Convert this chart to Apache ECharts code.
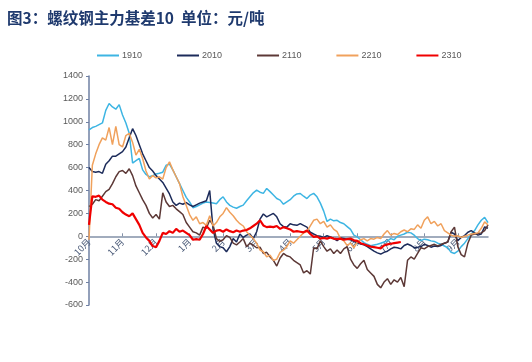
<!DOCTYPE html>
<html>
<head>
<meta charset="utf-8">
<script src="https://cdn.jsdelivr.net/npm/echarts@6/dist/echarts.min.js"></script>
<style>
html,body{margin:0;padding:0;background:#fff;}
#c{width:532px;height:362px;}
</style>
</head>
<body>
<div id="c"></div>
<script>
// month labels (10 sample points per month)
const months = ['10月','11月','12月','1月','2月','3月','4月','5月','6月','7月','8月','9月'];
const perMonth = 10;
const yTicks = [-600,-400,-200,0,200,400,600,800,1000,1200,1400];

const s1910 = [930,950,960,975,990,1100,1160,1130,1110,1150,1060,990,900,640,660,680,580,540,520,530,
545,550,560,620,630,580,520,460,400,340,300,250,260,275,290,300,295,290,285,320,
345,300,270,255,245,260,272,310,345,380,403,385,375,418,390,360,330,316,280,300,
320,350,370,374,350,330,360,375,345,290,220,130,150,135,140,120,110,85,60,10,
-5,-30,-55,-70,-82,-75,-70,-60,-50,-40,-20,-30,0,10,20,35,30,10,-20,-38,
-25,-30,-40,-45,-60,-70,-85,-100,-140,-150,-130,-90,-60,-20,20,50,100,140,165,120];

const s2010 = [600,565,560,565,550,630,660,700,700,720,740,780,860,940,880,800,720,660,600,570,
530,500,470,420,370,300,270,290,280,295,275,260,275,290,300,310,400,60,-60,-90,
-100,-135,-90,-20,-50,20,-10,10,20,-20,40,150,195,170,185,200,170,110,85,80,
110,100,96,111,95,80,35,20,6,0,-10,5,-5,-20,-38,-15,-20,-25,-30,-45,
-55,-67,-75,-90,-110,-130,-145,-155,-140,-130,-110,-96,-100,-110,-80,-67,-80,-100,-96,-90,
-70,-80,-95,-85,-90,-80,-60,-50,35,20,-38,-10,6,35,50,30,10,20,82,70];

const s2110 = [260,280,320,310,350,390,410,460,520,565,575,550,590,530,440,380,320,270,200,160,
190,150,380,300,260,270,240,215,190,120,80,40,30,10,80,70,140,100,-20,-45,
-30,6,-10,-60,-75,-50,-20,-90,-60,-80,-100,-95,-150,-140,-180,-210,-260,-190,-150,-170,
-180,-210,-230,-250,-320,-300,-330,-100,-110,-40,-90,-130,-110,-150,-120,-150,-110,-90,-200,-250,
-280,-240,-210,-290,-320,-350,-420,-450,-400,-370,-420,-380,-400,-360,-440,-210,-180,-200,-150,-100,
-110,-90,-80,-70,-85,-70,-60,-50,40,80,-90,-160,-180,-60,10,20,25,30,50,100];

const s2210 = [-30,620,720,800,860,840,950,800,960,800,780,880,900,820,710,760,680,570,500,530,
510,520,500,600,650,580,520,460,345,270,190,140,170,110,120,96,180,90,120,170,
200,250,210,180,140,110,90,40,10,-20,-60,-120,-135,-180,-165,-210,-200,-140,-120,-90,
-40,-60,-30,0,30,40,90,140,150,110,130,80,100,60,40,-20,-40,-80,-60,-100,
-50,-30,-20,-40,-20,-25,-10,-20,20,50,10,25,15,40,55,40,65,60,100,70,
140,170,110,130,90,110,50,30,10,0,5,-10,0,10,20,25,30,70,126,100];

const s2310 = [100,350,345,355,320,300,285,280,250,240,210,190,175,200,150,100,30,-10,-40,-85,
-95,-40,30,20,45,30,65,40,50,30,10,-30,-25,-30,20,90,60,30,50,55,
40,60,45,35,50,40,50,55,70,90,110,140,95,80,85,80,90,65,80,70,
60,40,45,40,35,50,20,-5,0,-20,-15,-20,-10,-20,-25,-20,-30,-25,-20,-35,
-40,-60,-70,-80,-90,-95,-100,-105,-80,-70,-65,-60,-55,-50];

const seriesNames = ['1910','2010','2110','2210','2310'];
const seriesData = [s1910, s2010, s2110, s2210, s2310];
const seriesColors = ['#3DB5E3','#1C2B5A','#5C3836','#F0A15C','#F00000'];
const seriesWidths = [1.5,1.5,1.5,1.5,2.2];

const categories = [];
months.forEach(m => { for (let k = 0; k < perMonth; k++) categories.push(m + '-' + k); });

const grid = {left: 89, right: 44, top: 76, bottom: 57};
const plotH = 362 - grid.top - grid.bottom;
const yMin = yTicks[0], yMax = yTicks[yTicks.length-1];
// shift the category axis up so it sits on the zero line (labels included)
const zeroOffset = -plotH * (0 - yMin) / (yMax - yMin);

const chart = echarts.init(document.getElementById('c'), null, {renderer:'canvas'});
chart.setOption({
  animation: false,
  backgroundColor: '#ffffff',
  title: {
    text: '图3：螺纹钢主力基差10  单位：元/吨',
    left: 2, top: 5,
    textStyle: {fontFamily: 'Noto Sans CJK SC', fontSize: 15.5, fontWeight: 'bold', color: '#1F3A6E'}
  },
  legend: {
    data: seriesNames,
    left: 97, top: 51, padding: 0,
    icon: 'rect', itemWidth: 22, itemHeight: 2, itemGap: 35,
    textStyle: {fontFamily: 'Liberation Sans', fontSize: 9, color: '#595959', padding: [0,0,0,-2]}
  },
  grid: Object.assign({containLabel: false}, grid),
  xAxis: {
    type: 'category', data: categories, boundaryGap: false,
    offset: zeroOffset,
    axisLine: {onZero: false, lineStyle: {color: '#8391A8', width: 1.5}},
    axisTick: {show: true, inside: true, length: 3, interval: perMonth - 1, lineStyle: {color: '#8391A8'}},
    axisLabel: {
      interval: perMonth - 1, rotate: 45, fontSize: 9, color: '#4A5A78', margin: 4,
      fontFamily: 'Noto Sans CJK SC',
      formatter: v => v.split('-')[0]
    },
    splitLine: {show: false}
  },
  yAxis: {
    type: 'value', min: yMin, max: yMax, interval: 200,
    axisLine: {show: true, lineStyle: {color: '#6F80A3', width: 1.5}},
    axisTick: {show: true, length: 3, lineStyle: {color: '#6F80A3'}},
    axisLabel: {fontSize: 9, color: '#595959', margin: 6, fontFamily: 'Liberation Sans',
      formatter: v => String(v)},
    splitLine: {show: false}
  },
  series: seriesNames.map((n, idx) => ({
    name: n, type: 'line', data: seriesData[idx], showSymbol: false, symbol: 'none',
    lineStyle: {color: seriesColors[idx], width: seriesWidths[idx]},
    itemStyle: {color: seriesColors[idx]},
    z: idx === 4 ? 10 : 2 + idx
  }))
});
</script>
</body>
</html>
